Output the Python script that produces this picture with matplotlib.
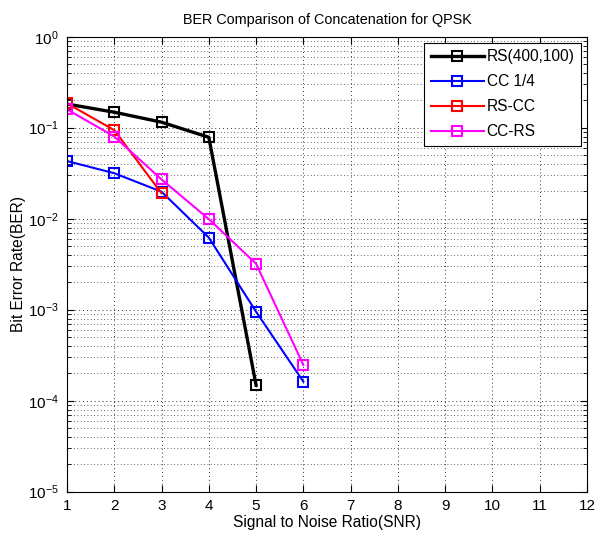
import numpy as np
import matplotlib
matplotlib.use('Agg')
import matplotlib.pyplot as plt
from matplotlib.ticker import LogLocator, FixedLocator, NullFormatter

plt.rcParams['font.family'] = ['Liberation Sans', 'DejaVu Sans']

# datos
snr_rs = [1, 2, 3, 4, 5]
ber_rs = [0.182, 0.148, 0.115, 0.0785, 1.48e-4]

snr_cc = [1, 2, 3, 4, 5, 6]
ber_cc = [0.043, 0.0316, 0.0198, 0.0062, 9.5e-4, 1.62e-4]

snr_rscc = [1, 2, 3]
ber_rscc = [0.185, 0.094, 0.019]

snr_ccrs = [1, 2, 3, 4, 5, 6]
ber_ccrs = [0.159, 0.080, 0.027, 0.0099, 0.0032, 2.47e-4]

etiquetas = ['RS(400,100)', 'CC 1/4', 'RS-CC', 'CC-RS']

fig = plt.figure(figsize=(5.95, 5.38), dpi=100)
ax = fig.add_axes([67/595, 1 - 491.7/538, (587 - 67)/595, (491.7 - 36.7)/538])

mk = dict(marker='s', markerfacecolor='none', markersize=6.5, markeredgewidth=1.5)
ax.semilogy(snr_rs, ber_rs, color='black', lw=2.4, label=etiquetas[0], **mk)
ax.semilogy(snr_cc, ber_cc, color='#0000ff', lw=1.5, label=etiquetas[1], **mk)
ax.semilogy(snr_rscc, ber_rscc, color='#ff0000', lw=1.5, label=etiquetas[2], **mk)
ax.semilogy(snr_ccrs, ber_ccrs, color='#ff00ff', lw=1.5, label=etiquetas[3], **mk)

ax.set_xlim(1, 12)
ax.set_ylim(1e-5, 1)
ax.xaxis.set_major_locator(FixedLocator(range(1, 13)))
ax.yaxis.set_major_locator(LogLocator(base=10, numticks=10))
ax.yaxis.set_minor_locator(LogLocator(base=10, subs=np.arange(2, 10), numticks=20))
ax.yaxis.set_minor_formatter(NullFormatter())

ax.tick_params(which='both', direction='in', top=True, right=True, labelsize=11)
ax.tick_params(which='major', length=5)
ax.tick_params(which='minor', length=3)
ax.tick_params(axis='y', which='major', pad=6)
ax.tick_params(axis='x', which='major', pad=5)

ax.grid(True, which='major', linestyle=(0, (1, 3)), color='#333333', lw=0.7)
ax.grid(True, which='minor', axis='y', linestyle=(0, (1, 3)), color='#333333', lw=0.6)

for s in ax.spines.values():
    s.set_linewidth(0.8)

ax.set_title('BER Comparison of Concatenation for QPSK', fontsize=10.4, pad=9)
ax.set_xlabel('Signal to Noise Ratio(SNR)', fontsize=11.2, labelpad=2)
ax.set_ylabel('Bit Error Rate(BER)', fontsize=11.2, labelpad=1)

leg = ax.legend(loc='upper right', fontsize=11.2, fancybox=False, framealpha=1,
                edgecolor='black', borderaxespad=0.4, handlelength=3.4,
                labelspacing=0.65, handletextpad=0.2, borderpad=0.4)
leg.get_frame().set_linewidth(0.8)

fig.savefig('out.png', dpi=100)
